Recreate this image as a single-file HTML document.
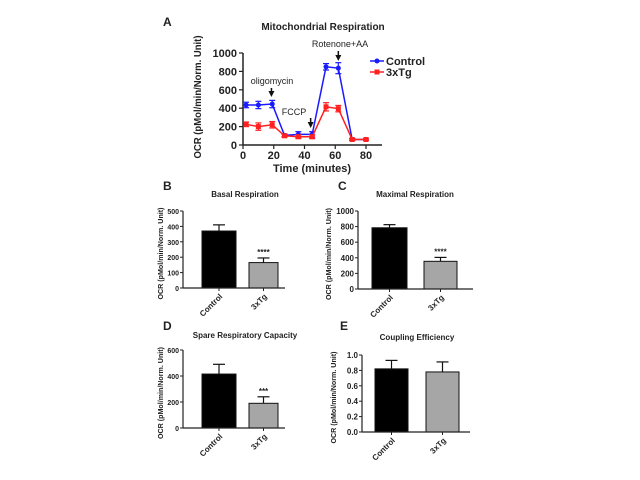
<!DOCTYPE html>
<html><head><meta charset="utf-8"><style>
body{margin:0;background:#fff;}
svg{display:block;font-family:"Liberation Sans",Arial,sans-serif;font-weight:bold;}
</style></head><body>
<svg id="s" width="640" height="480" viewBox="0 0 640 480"></svg>
<script>
// Panel A data
const timeA = [2,10,19,27,36,45,54,62,71,80];
const controlA = [435,435,445,105,115,115,850,835,60,60];
const controlErrA = [30,40,40,15,30,30,35,60,10,10];
const tgA = [225,200,220,100,90,90,415,395,60,60];
const tgErrA = [25,40,35,15,20,20,45,35,10,10];
const xTicksA = [0,20,40,60,80];
const yTicksA = [0,200,400,600,800,1000];
// Bar panels
const barCats = ["Control","3xTg"];
const basalVals = [370,165]; const basalErr = [40,30];
const maxVals = [785,355]; const maxErr = [40,50];
const spareVals = [415,190]; const spareErr = [75,50];
const coupVals = [0.82,0.78]; const coupErr = [0.11,0.13];
const basalTicks = [0,100,200,300,400,500];
const maxTicks = [0,200,400,600,800,1000];
const spareTicks = [0,200,400,600];
const coupTicks = [0,0.2,0.4,0.6,0.8,1.0];

const S = document.getElementById('s');
const NS = "http://www.w3.org/2000/svg";
function el(tag, attrs, parent, txt){
  const e = document.createElementNS(NS, tag);
  for (const k in attrs) e.setAttribute(k, attrs[k]);
  if (txt !== undefined) e.textContent = txt;
  (parent || S).appendChild(e);
  return e;
}
function txt(x,y,s,size,anchor,name,extra){
  const t = el('text',Object.assign({x:x,y:y,'font-size':size,'text-anchor':anchor||'middle',fill:'#222'},extra||{}),S,s);
  
  
  return t;
}

// ---------- Panel A ----------
(function(){
  const x0=243, x1=366, y0=145, y1=53;
  const xs = v => x0 + (v/80)*(x1-x0);
  const ys = v => y0 - (v/1000)*(y0-y1);
  const g = el('g',{});
  
  
  txt(163,26,"A",12,'start','panel-a-label');
  txt(323,30,"Mitochondrial Respiration",10,'middle','panel-a-title');
  el('line',{x1:x0,y1:y0,x2:382,y2:y0,stroke:'#222','stroke-width':1.5},g);
  el('line',{x1:x0,y1:y0,x2:x0,y2:y1,stroke:'#222','stroke-width':1.5},g);
  yTicksA.forEach(v=>{
    el('line',{x1:x0-4,y1:ys(v),x2:x0,y2:ys(v),stroke:'#222','stroke-width':1.2},g);
    txt(x0-6,ys(v)+4,String(v),11,'end','y-tick-a');
  });
  xTicksA.forEach(v=>{
    el('line',{x1:xs(v),y1:y0,x2:xs(v),y2:y0+4,stroke:'#222','stroke-width':1.2},g);
    txt(xs(v),y0+14,String(v),11,'middle','x-tick-a');
  });
  txt(312,172,"Time (minutes)",11,'middle','x-axis-title-a');
  txt(0,0,"OCR (pMol/min/Norm. Unit)",10,'middle','y-axis-title-a',{transform:'translate(201,97) rotate(-90)',textLength:123,lengthAdjust:'spacingAndGlyphs'});
  function series(vals,errs,col,name,square){
    const pts = timeA.map((t,i)=>xs(t)+','+ys(vals[i])).join(' ');
    const pl = el('polyline',{points:pts,fill:'none',stroke:col,'stroke-width':1.5},g);
    
    
    timeA.forEach((t,i)=>{
      const X=xs(t), Y=ys(vals[i]), e1=ys(vals[i]+errs[i]), e2=ys(vals[i]-errs[i]);
      el('line',{x1:X,y1:e1,x2:X,y2:e2,stroke:col,'stroke-width':1.2},g);
      el('line',{x1:X-3,y1:e1,x2:X+3,y2:e1,stroke:col,'stroke-width':1.2},g);
      el('line',{x1:X-3,y1:e2,x2:X+3,y2:e2,stroke:col,'stroke-width':1.2},g);
      const m = square ? el('rect',{x:X-2.5,y:Y-2.5,width:5,height:5,fill:col},g)
                       : el('circle',{cx:X,cy:Y,r:2.5,fill:col},g);
      
      
    });
  }
  series(controlA,controlErrA,'#1a1aff','control-series',false);
  series(tgA,tgErrA,'#ff2020','3xtg-series',true);
  function arrow(xv,yTop,yBot){
    el('line',{x1:xs(xv),y1:yTop,x2:xs(xv),y2:yBot-3,stroke:'#111','stroke-width':1.5});
    el('polygon',{points:(xs(xv)-3)+','+(yBot-5)+' '+(xs(xv)+3)+','+(yBot-5)+' '+xs(xv)+','+(yBot+1),fill:'#111'});
  }
  txt(272,84,"oligomycin",9,'middle','oligomycin-label',{'font-weight':'normal'});
  arrow(18.5,88,96);
  txt(294,115,"FCCP",9,'middle','fccp-label',{'font-weight':'normal'});
  arrow(44,118,127);
  txt(340,47,"Rotenone+AA",9,'middle','rotenone-aa-label',{'font-weight':'normal'});
  arrow(62,51,60);
  const lg = el('g',{});
  
  
  el('line',{x1:370,y1:61,x2:384,y2:61,stroke:'#1a1aff','stroke-width':1.5},lg);
  el('circle',{cx:377,cy:61,r:2.5,fill:'#1a1aff'},lg);
  txt(386,65,"Control",11,'start','legend-control');
  el('line',{x1:370,y1:72,x2:384,y2:72,stroke:'#ff2020','stroke-width':1.5},lg);
  el('rect',{x:374.5,y:69.5,width:5,height:5,fill:'#ff2020'},lg);
  txt(386,76,"3xTg",11,'start','legend-3xtg');
})();

// ---------- Bar panels ----------
function barPanel(o){
  const ys = v => o.y0 - (v/o.max)*(o.y0-o.y1);
  txt(o.lx,o.ly,o.letter,12,'start','panel-'+o.letter.toLowerCase()+'-label');
  txt(o.tx,o.ty,o.title,8,'middle',o.id+'-title');
  txt(0,0,"OCR (pMol/min/Norm. Unit)",7,'middle',o.id+'-y-axis-title',{transform:'translate('+o.ylx+','+((o.y0+o.y1)/2+4)+') rotate(-90)',textLength:92,lengthAdjust:'spacingAndGlyphs'});
  o.vals.forEach((v,i)=>{
    const b=o.bars[i], cx=(b[0]+b[1])/2, top=ys(v), et=ys(v+o.errs[i]);
    el('line',{x1:cx,y1:top,x2:cx,y2:et,stroke:'#111','stroke-width':1.2});
    el('line',{x1:cx-6,y1:et,x2:cx+6,y2:et,stroke:'#111','stroke-width':1.2});
    const r = el('rect',{x:b[0],y:top,width:b[1]-b[0],height:o.y0-top,fill:i===0?'#000':'#a6a6a6',stroke:'#111','stroke-width':1});
    
    
    el('line',{x1:cx,y1:o.y0,x2:cx,y2:o.y0+3,stroke:'#222','stroke-width':1});
    txt(cx+4,o.y0+9,barCats[i],8,'end',o.id+'-x-label',{transform:'rotate(-45 '+(cx+4)+' '+(o.y0+9)+')'});
    if (o.sig && i===1) txt(cx,et-3,o.sig,8,'middle',o.id+'-significance');
  });
  el('line',{x1:o.ax,y1:o.y0,x2:o.ax,y2:o.y1,stroke:'#222','stroke-width':1.2});
  el('line',{x1:o.ax,y1:o.y0,x2:o.xe,y2:o.y0,stroke:'#222','stroke-width':1.2});
  o.ticks.forEach(v=>{
    el('line',{x1:o.ax-3,y1:ys(v),x2:o.ax,y2:ys(v),stroke:'#222','stroke-width':1});
    txt(o.ax-4,ys(v)+3,o.fmt?v.toFixed(1):String(v),o.tf||8,'end',o.id+'-y-tick');
  });
}
barPanel({id:'basal',letter:'B',lx:163,ly:190,title:'Basal Respiration',tx:245,ty:197,ylx:163,tf:7,
  vals:basalVals,errs:basalErr,ticks:basalTicks,max:500,y0:288,y1:211,ax:183,xe:285,bars:[[202,236],[249,278]],sig:'****'});
barPanel({id:'maximal',letter:'C',lx:338,ly:190,title:'Maximal Respiration',tx:415,ty:197,ylx:331,
  vals:maxVals,errs:maxErr,ticks:maxTicks,max:1000,y0:289,y1:211,ax:358,xe:473,bars:[[372,407],[424,457]],sig:'****'});
barPanel({id:'spare',letter:'D',lx:163,ly:330,title:'Spare Respiratory Capacity',tx:245,ty:338,ylx:163,tf:7,
  vals:spareVals,errs:spareErr,ticks:spareTicks,max:600,y0:428,y1:350,ax:183,xe:285,bars:[[202,236],[249,278]],sig:'***'});
barPanel({id:'coupling',letter:'E',lx:340,ly:330,title:'Coupling Efficiency',tx:417,ty:340,ylx:336,
  vals:coupVals,errs:coupErr,ticks:coupTicks,max:1.0,y0:432,y1:355,ax:362,xe:470,bars:[[375,408],[426,459]],fmt:true});
</script>
</body></html>
